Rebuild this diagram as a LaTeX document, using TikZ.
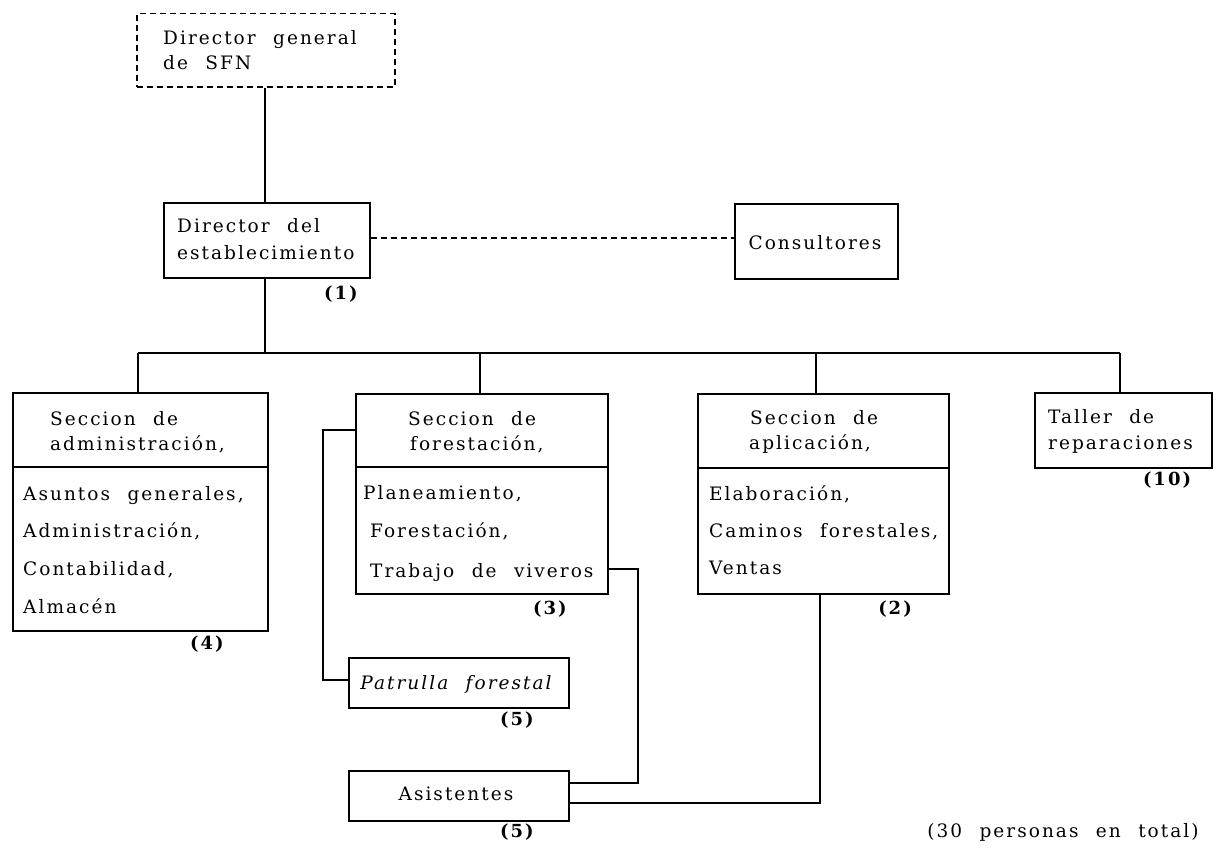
\documentclass[tikz,border=0pt]{standalone}
\usepackage{fontspec}
\setmainfont{DejaVu Serif}[LetterSpace=11, WordSpace=2.2]
\begin{document}
\begin{tikzpicture}[x=1pt,y=-1pt,
  box/.style={draw, line width=1.5pt, inner sep=0pt, anchor=north west},
  dbox/.style={box, dash pattern=on 6pt off 4pt},
  txt/.style={inner sep=0pt, anchor=west, text height=14pt, text depth=0pt, font=\fontsize{18.5}{22}\selectfont},
  ctxt/.style={txt, anchor=center},
  num/.style={inner sep=0pt, anchor=center, text height=14pt, text depth=0pt, font=\fontsize{18}{20}\selectfont\bfseries},
  link/.style={line width=1.5pt},
  dlink/.style={line width=1.2pt, dash pattern=on 6pt off 4pt},
]
\useasboundingbox (0,0) rectangle (1221,851);

% boxes
\node[dbox, minimum width=258pt, minimum height=73pt] (dg) at (136,13) {};
\node[box, minimum width=206pt, minimum height=75pt] (dir) at (163,202) {};
\node[box, minimum width=163pt, minimum height=75pt] (cons) at (734,203) {};
\node[box, minimum width=255pt, minimum height=238pt] (adm) at (12,392) {};
\node[box, minimum width=252pt, minimum height=200pt] (for) at (355,393) {};
\node[box, minimum width=251pt, minimum height=200pt] (apl) at (697,393) {};
\node[box, minimum width=177pt, minimum height=75pt] (tal) at (1034,392) {};
\node[box, minimum width=220pt, minimum height=50pt] (pat) at (348,657) {};
\node[box, minimum width=220pt, minimum height=50pt] (asi) at (348,770) {};

% dividers
\draw[link] (adm.west |- 0,467) -- (adm.east |- 0,467);
\draw[link] (for.west |- 0,467) -- (for.east |- 0,467);
\draw[link] (apl.west |- 0,468) -- (apl.east |- 0,468);

% texts
\node[txt] (dg1) at (163,38) {Director general};
\node[txt] (dg2) at (163,63) {de SFN};
\node[txt] (dir1) at (177,225) {Director del};
\node[txt] (dir2) at (177,252) {establecimiento};
\node[ctxt] (cons1) at (815,242) {Consultores};

\node[txt] (adm1) at (50,418) {Seccion de};
\node[txt] (adm2) at (50,443) {administración,};
\node[txt] (adm3) at (23,493) {Asuntos generales,};
\node[txt] (adm4) at (23,530) {Administración,};
\node[txt] (adm5) at (23,568) {Contabilidad,};
\node[txt] (adm6) at (23,606) {Almacén};

\node[txt] (for1) at (408,418) {Seccion de};
\node[txt] (for2) at (410,443) {forestación,};
\node[txt] (for3) at (363,492) {Planeamiento,};
\node[txt] (for4) at (370,530) {Forestación,};
\node[txt] (for5) at (370,570) {Trabajo de viveros};

\node[txt] (apl1) at (750,417) {Seccion de};
\node[txt] (apl2) at (749,442) {aplicación,};
\node[txt] (apl3) at (709,493) {Elaboración,};
\node[txt] (apl4) at (709,530) {Caminos forestales,};
\node[txt] (apl5) at (709,567) {Ventas};

\node[txt] (tal1) at (1048,416) {Taller de};
\node[txt] (tal2) at (1048,442) {reparaciones};

\node[ctxt, font=\fontsize{18.5}{22}\selectfont\itshape] (pat1) at (456,682) {Patrulla forestal};
\node[ctxt] (asi1) at (456,793) {Asistentes};

\node[ctxt] (total) at (1063,830) {(30 personas en total)};

% numbers
\node[num] (n1) at (341,292) {(1)};
\node[num] (n4) at (207,642) {(4)};
\node[num] (n3) at (550,607) {(3)};
\node[num] (n2) at (895,607) {(2)};
\node[num] (n10) at (1167,478) {(10)};
\node[num] (n5a) at (517,718) {(5)};
\node[num] (n5b) at (517,830) {(5)};

% connectors
\coordinate (busL) at (138,353);
\coordinate (busR) at (1120,353);
\draw[link] (dg.south -| 265,0) -- (dir.north -| 265,0);
\draw[link] (dir.south -| 265,0) -- (265,353);
\draw[link] (busL) -- (busR);
\draw[link] (busL) -- (adm.north -| busL);
\draw[link] (480,353) -- (for.north -| 480,0);
\draw[link] (816,353) -- (apl.north -| 816,0);
\draw[link] (busR) -- (tal.north -| busR);
\draw[dlink] (dir.east |- 0,238) -- (cons.west |- 0,238);

\draw[link] (for.west |- 0,430) -- (323,430) -- (323,680) -- (pat.west |- 0,680);
\draw[link] (for.east |- 0,569) -- (638,569) -- (638,783) -- (asi.east |- 0,783);
\draw[link] (apl.south -| 820,0) -- (820,803) -- (asi.east |- 0,803);
\end{tikzpicture}
\end{document}
